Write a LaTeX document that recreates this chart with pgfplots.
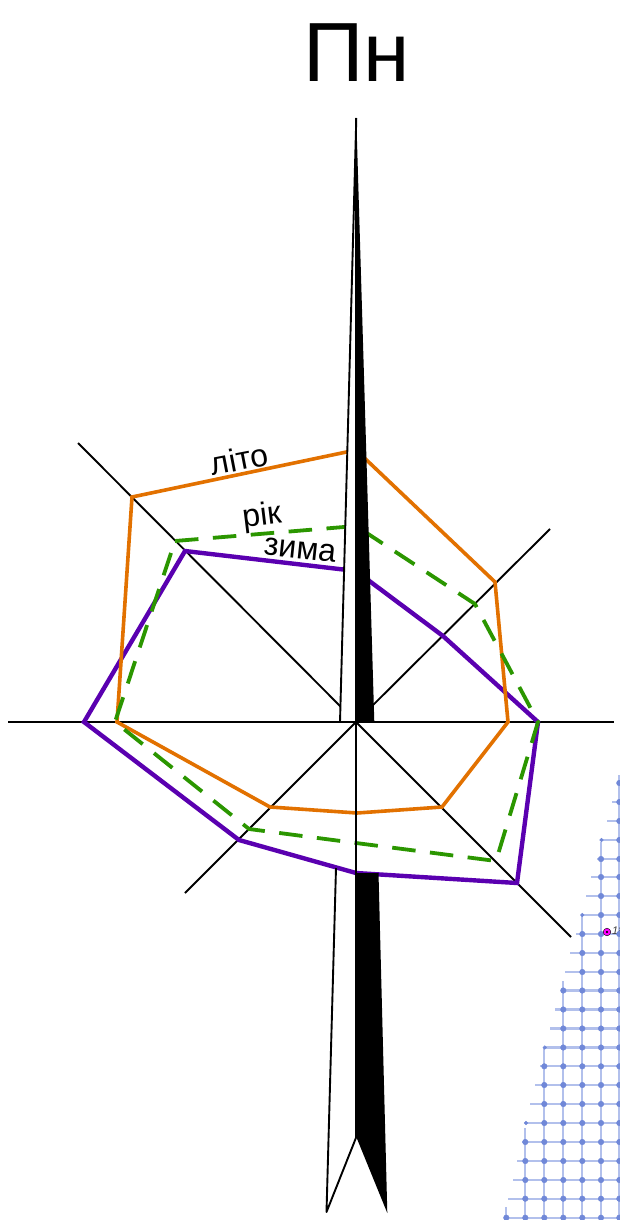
\documentclass[border=0pt]{standalone}
\usepackage{fontspec}
\setmainfont{Liberation Sans}
\usepackage{pgfplots}
\pgfplotsset{compat=1.18}
\definecolor{orangeL}{RGB}{226,113,0}
\definecolor{purpleL}{RGB}{90,0,176}
\definecolor{greenL}{RGB}{43,150,0}
\definecolor{gridL}{RGB}{178,192,236}
\definecolor{gridP}{RGB}{112,136,216}
\definecolor{magentaP}{RGB}{255,0,255}
\begin{document}
\begin{tikzpicture}[x=1pt,y=1pt]
\useasboundingbox (0,0) rectangle (620pt,1220pt);
\clip (0,0) rectangle (620pt,1220pt);
\begin{axis}[
  at={(0,0)},anchor=south west,
  width=620pt,height=1220pt,scale only axis,
  xmin=0,xmax=620,ymin=0,ymax=1220,y dir=reverse,
  hide axis,clip=true,
  line join=miter,
]
% --- map grid fragment: horizontals
\pgfplotsset{gl/.style={color=gridL,line width=2.2pt,no marks,forget plot}}
\addplot[gl] coordinates {(618,783) (625,783)};
\addplot[gl] coordinates {(612,802) (625,802)};
\addplot[gl] coordinates {(607,821) (625,821)};
\addplot[gl] coordinates {(602,840) (625,840)};
\addplot[gl] coordinates {(597,859) (625,859)};
\addplot[gl] coordinates {(591,877) (625,877)};
\addplot[gl] coordinates {(586,896) (625,896)};
\addplot[gl] coordinates {(581,915) (625,915)};
\addplot[gl] coordinates {(576,934) (625,934)};
\addplot[gl] coordinates {(570,953) (625,953)};
\addplot[gl] coordinates {(565,972) (625,972)};
\addplot[gl] coordinates {(561,990.5) (625,990.5)};
\addplot[gl] coordinates {(555,1009.5) (625,1009.5)};
\addplot[gl] coordinates {(550,1028.5) (625,1028.5)};
\addplot[gl] coordinates {(545,1047.5) (625,1047.5)};
\addplot[gl] coordinates {(540,1066.3) (625,1066.3)};
\addplot[gl] coordinates {(535,1085) (625,1085)};
\addplot[gl] coordinates {(530,1104) (625,1104)};
\addplot[gl] coordinates {(526,1123) (625,1123)};
\addplot[gl] coordinates {(522,1142) (625,1142)};
\addplot[gl] coordinates {(517,1161) (625,1161)};
\addplot[gl] coordinates {(513,1180) (625,1180)};
\addplot[gl] coordinates {(508,1198.7) (625,1198.7)};
\addplot[gl] coordinates {(504,1217.7) (625,1217.7)};
% verticals
\addplot[gl] coordinates {(619.3,775) (619.3,1225)};
\addplot[gl] coordinates {(601,842) (601,1225)};
\addplot[gl] coordinates {(582.3,915) (582.3,1225)};
\addplot[gl] coordinates {(563.3,981) (563.3,1225)};
\addplot[gl] coordinates {(544.3,1048) (544.3,1225)};
\addplot[gl] coordinates {(525.3,1128) (525.3,1225)};
\addplot[gl] coordinates {(506.3,1207) (506.3,1225)};
% grid points
\addplot[only marks,mark=*,mark size=2.8pt,color=gridP,mark options={draw=none,fill=gridP},forget plot] table {
x y
619.3 783
619.3 802
619.3 821
619.3 840
619.3 859
619.3 877
619.3 896
619.3 915
619.3 934
619.3 953
619.3 972
619.3 990.5
619.3 1009.5
619.3 1028.5
619.3 1047.5
619.3 1066.3
619.3 1085
619.3 1104
619.3 1123
619.3 1142
619.3 1161
619.3 1180
619.3 1198.7
619.3 1217.7
601 859
601 877
601 896
601 915
601 934
601 953
601 972
601 990.5
601 1009.5
601 1028.5
601 1047.5
601 1066.3
601 1085
601 1104
601 1123
601 1142
601 1161
601 1180
601 1198.7
601 1217.7
582.3 934
582.3 953
582.3 972
582.3 990.5
582.3 1009.5
582.3 1028.5
582.3 1047.5
582.3 1066.3
582.3 1085
582.3 1104
582.3 1123
582.3 1142
582.3 1161
582.3 1180
582.3 1198.7
582.3 1217.7
563.3 990.5
563.3 1009.5
563.3 1028.5
563.3 1047.5
563.3 1066.3
563.3 1085
563.3 1104
563.3 1123
563.3 1142
563.3 1161
563.3 1180
563.3 1198.7
563.3 1217.7
544.3 1066.3
544.3 1085
544.3 1104
544.3 1123
544.3 1142
544.3 1161
544.3 1180
544.3 1198.7
544.3 1217.7
525.3 1142
525.3 1161
525.3 1180
525.3 1198.7
525.3 1217.7
506.3 1217.7
};
\addplot[only marks,mark=*,mark size=1.8pt,color=gridP,mark options={draw=none,fill=gridP},forget plot] table {
x y
601.5 840
582.3 915
544.8 1047.5
526 1123
};
% magenta point
\addplot[only marks,mark=*,mark size=3.8pt,mark options={draw=none,fill=magentaP},forget plot] coordinates {(607,932)};
\addplot[only marks,mark=*,mark size=0.8pt,mark options={draw=none,fill=black},forget plot] coordinates {(607,932)};
\node[anchor=west,inner sep=0pt,text=black!75,font=\fontsize{11}{11}\selectfont\itshape] at (axis cs:612,931) {18};
% --- compass lines below the curves
\pgfplotsset{bl/.style={color=black,line width=1.9pt,no marks,forget plot}}
\addplot[bl] coordinates {(8,722) (614,722)};
\addplot[bl] coordinates {(78,443) (356,722)};
\addplot[bl] coordinates {(550,529) (356,722)};
\addplot[bl] coordinates {(356,722) (571,937)};
\addplot[bl] coordinates {(356,722) (185,893)};
% --- curves
\addplot[color=purpleL,line width=4.4pt,no marks,forget plot] coordinates {
(356,571) (443,636) (538,722) (517,883) (356,873) (239,840) (84,722) (185,551) (356,571)};
\addplot[color=orangeL,line width=3.6pt,no marks,forget plot] coordinates {
(356,450) (495,582) (508,722) (442,807) (357,813) (270,807) (117,722) (132,497) (356,450)};
\addplot[color=greenL,line width=3.8pt,no marks,forget plot,dash pattern=on 23.5pt off 14.5pt] coordinates {
(175,541) (356,526) (475,604) (538,722) (496,861) (356,843) (249,829) (115,722) (175,541)};
% --- north arrow
\addplot[fill=white,draw=none,forget plot] coordinates {(356,118) (340,722) (356,722)} --cycle;
\addplot[fill=black,draw=none,forget plot] coordinates {(356.3,118) (374.3,722) (356.3,722)} --cycle;
\addplot[bl] coordinates {(356.3,118) (340,722)};
\addplot[bl] coordinates {(356.3,118) (356.3,722)};
\addplot[bl] coordinates {(340,722) (356.3,722)};
% --- south arrow
\addplot[fill=white,draw=none,forget plot] coordinates {(336,870.5) (326.5,1211) (356.3,1137) (356.3,877)} --cycle;
\addplot[fill=black,draw=none,forget plot] coordinates {(356.3,873) (356.3,1137) (387.3,1213) (378.5,873)} --cycle;
\addplot[bl,line join=round] coordinates {(336,868) (326.5,1212) (356.3,1137)};
\addplot[bl] coordinates {(356.3,722) (356.3,1137)};
% --- text
\node[anchor=base,inner sep=0pt,font=\fontsize{84}{84}\selectfont] at (axis cs:356.5,82) {Пн};
\node[inner sep=0pt,rotate=11,font=\fontsize{32}{32}\selectfont] at (axis cs:239,459) {літо};
\node[inner sep=0pt,rotate=7,font=\fontsize{32}{32}\selectfont] at (axis cs:262,517) {рік};
\node[inner sep=0pt,rotate=-6,font=\fontsize{32}{32}\selectfont] at (axis cs:300,550) {зима};
\end{axis}
\end{tikzpicture}
\end{document}
